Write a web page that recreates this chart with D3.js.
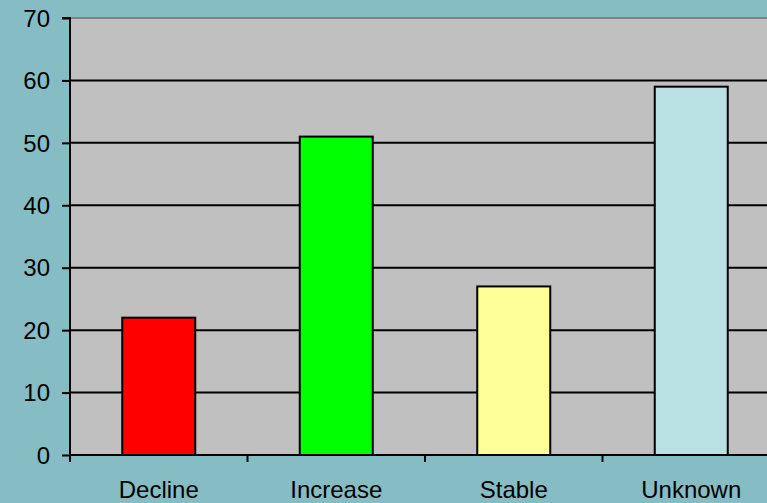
<!DOCTYPE html>
<html>
<head>
<meta charset="utf-8">
<script src="https://cdn.jsdelivr.net/npm/d3@7"></script>
<style>
  html, body { margin: 0; padding: 0; background: #86bcc3; }
  svg { display: block; }
  text { font-family: "Liberation Sans", Arial, sans-serif; fill: #000; }
</style>
</head>
<body>
<svg id="chart" width="767" height="503"></svg>
<script>
const categories = ["Decline", "Increase", "Stable", "Unknown"];
const values = [22, 51, 27, 59];
const barColors = ["#ff0000", "#00ff00", "#ffff99", "#b9e0e3"];
const yTicks = [0, 10, 20, 30, 40, 50, 60, 70];

const svg = d3.select("#chart");
const plotLeft = 70, plotTop = 18, plotBottom = 455, plotRight = 780;
const fontSize = 24;

const x = d3.scaleBand().domain(categories).range([plotLeft, plotRight]).paddingInner(0).paddingOuter(0);
const y = d3.scaleLinear().domain([0, 70]).range([plotBottom, plotTop]);

// plot background
svg.append("rect")
  .attr("x", plotLeft).attr("y", plotTop)
  .attr("width", plotRight - plotLeft).attr("height", plotBottom - plotTop)
  .attr("fill", "#c0c0c0");

// top border of the plot area
svg.append("line")
  .attr("x1", plotLeft).attr("x2", plotRight)
  .attr("y1", plotTop).attr("y2", plotTop)
  .attr("stroke", "#808080").attr("stroke-width", 2);

// horizontal gridlines
svg.append("g")
  .selectAll("line")
  .data(yTicks.filter(d => d > 0 && d < 70))
  .join("line")
  .attr("x1", plotLeft).attr("x2", plotRight)
  .attr("y1", d => y(d)).attr("y2", d => y(d))
  .attr("stroke", "#000").attr("stroke-width", 2);

// bars
const bw = 73;
svg.append("g")
  .selectAll("rect")
  .data(categories)
  .join("rect")
  .attr("x", d => x(d) + x.bandwidth() / 2 - bw / 2)
  .attr("y", (d, i) => y(values[i]))
  .attr("width", bw)
  .attr("height", (d, i) => plotBottom - y(values[i]))
  .attr("fill", (d, i) => barColors[i])
  .attr("stroke", "#000").attr("stroke-width", 2);

// y axis
const yAxis = d3.axisLeft(y).tickValues(yTicks).tickSize(8).tickPadding(12).tickFormat(d3.format("d"));
const gy = svg.append("g").attr("transform", `translate(${plotLeft},0)`).call(yAxis);
gy.attr("font-size", fontSize).attr("font-family", "Liberation Sans, Arial, sans-serif");
gy.select(".domain").attr("stroke", "#000").attr("stroke-width", 2).attr("d", `M-8,${plotTop}H0V${plotBottom}`);
gy.selectAll(".tick line").attr("stroke", "#000").attr("stroke-width", 2);
gy.selectAll(".tick text").attr("font-size", fontSize).attr("dy", "0.34em");

// x axis
const xAxis = d3.axisBottom(x).tickSize(0).tickPadding(0);
const gx = svg.append("g").attr("transform", `translate(0,${plotBottom})`).call(xAxis);
gx.attr("font-size", fontSize).attr("font-family", "Liberation Sans, Arial, sans-serif");
gx.select(".domain").attr("stroke", "#000").attr("stroke-width", 2).attr("d", `M${plotLeft},0H${plotRight}`);
gx.selectAll(".tick text").attr("font-size", fontSize).attr("y", 43).attr("dy", 0);

// category boundary ticks
svg.append("g")
  .selectAll("line")
  .data(categories)
  .join("line")
  .attr("x1", d => x(d)).attr("x2", d => x(d))
  .attr("y1", plotBottom).attr("y2", plotBottom + 7)
  .attr("stroke", "#000").attr("stroke-width", 2);
</script>
</body>
</html>
